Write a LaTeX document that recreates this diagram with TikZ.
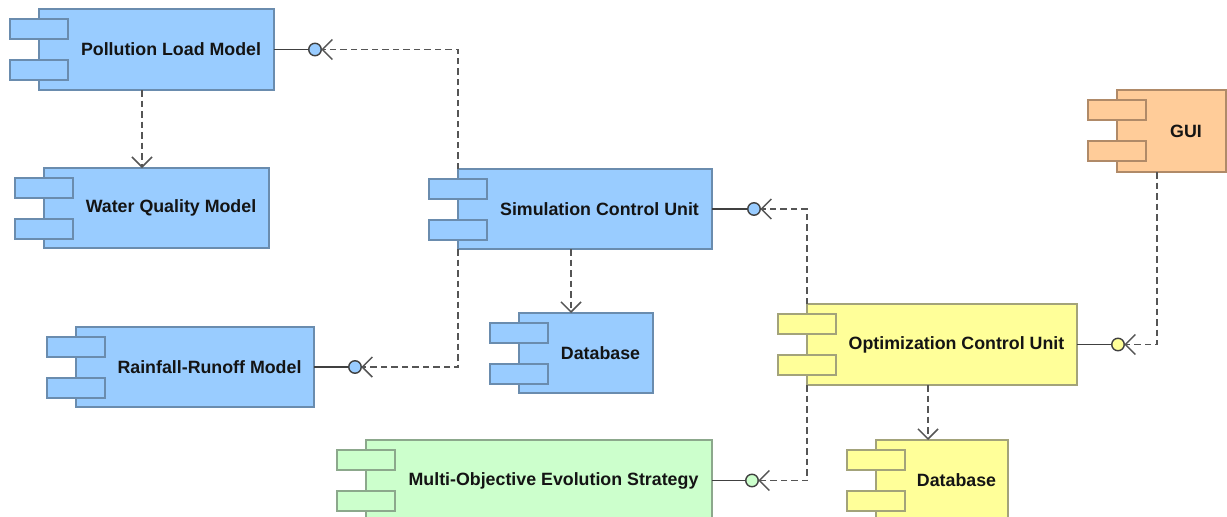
\documentclass[tikz,border=0pt]{standalone}
\usepackage{fontspec}
\setmainfont{Liberation Sans}
\usetikzlibrary{arrows.meta,calc}
\definecolor{bluefill}{HTML}{99CCFF}
\definecolor{blueline}{HTML}{6A8CAE}
\definecolor{yelfill}{HTML}{FFFF99}
\definecolor{yelline}{HTML}{A3A37A}
\definecolor{grnfill}{HTML}{CCFFCC}
\definecolor{grnline}{HTML}{8CA88C}
\definecolor{orgfill}{HTML}{FFCC99}
\definecolor{orgline}{HTML}{B08A68}
\definecolor{txt}{HTML}{141414}
\definecolor{conn}{HTML}{555555}
\definecolor{balline}{HTML}{404040}
\tikzset{
  compbox/.style={rectangle, inner sep=0pt, outer sep=0pt, line width=1.4pt},
  portbox/.style={rectangle, inner sep=0pt, outer sep=0pt, line width=1.4pt, minimum width=58pt, minimum height=20pt},
  lbl/.style={font=\fontsize{17.8}{20}\selectfont\bfseries, text=txt, inner sep=0pt},
  ball/.style={circle, draw=balline, line width=1.4pt, minimum size=12.5pt, inner sep=0pt, outer sep=0pt},
  solidlink/.style={draw=balline, line width=1.5pt},
  dep/.style={draw=conn, line width=1.5pt, dash pattern=on 6.5pt off 4pt, -{Straight Barb[length=10pt,width=20pt]}},
}
\newcommand\umlcomp[7]{%
  \node[compbox, fill=#2fill, draw=#2line, minimum width={#5-#3}, minimum height={#6-#4}, anchor=north west] (#1) at (#3,#4) {};
  \node[portbox, fill=#2fill, draw=#2line, anchor=north west] (#1-pa) at ({#3-29},{#4+10}) {};
  \node[portbox, fill=#2fill, draw=#2line, anchor=north west] (#1-pb) at ({#3-29},{#4+51}) {};
  \node[lbl] (#1-t) at ({(#3+29+#5)/2},{(#4+#6)/2}) {#7};
}
\begin{document}
\begin{tikzpicture}[x=1pt,y=-1pt]
  \useasboundingbox (0,0) rectangle (1227,517);
  \fill[white] (0,0) rectangle (1227,517);
  \clip (0,0) rectangle (1227,517);
  % components
  \umlcomp{plm}{blue}{39}{9}{274}{90}{Pollution Load Model}
  \umlcomp{wqm}{blue}{44}{168}{269}{248}{Water Quality Model}
  \umlcomp{scu}{blue}{458}{169}{712}{249}{Simulation Control Unit}
  \umlcomp{rrm}{blue}{76}{327}{314}{407}{Rainfall-Runoff Model}
  \umlcomp{sdb}{blue}{519}{313}{653}{393}{Database}
  \umlcomp{ocu}{yel}{807}{304}{1077}{385}{Optimization Control Unit}
  \umlcomp{odb}{yel}{876}{440}{1008}{521}{Database}
  \umlcomp{moes}{grn}{366}{440}{712}{521}{Multi-Objective Evolution Strategy}
  \umlcomp{gui}{org}{1117}{90}{1226}{172}{GUI}
  % provided interfaces (balls)
  \node[ball, fill=bluefill] (plmb) at ($(plm.east)+(41,0)$) {};
  \node[ball, fill=bluefill] (scub) at ($(scu.east)+(42,0)$) {};
  \node[ball, fill=bluefill] (rrmb) at ($(rrm.east)+(41,0)$) {};
  \node[ball, fill=yelfill] (ocub) at ($(ocu.east)+(41,0)$) {};
  \node[ball, fill=grnfill] (moesb) at ($(moes.east)+(40,0)$) {};
  \draw[solidlink] (plm.east) -- (plmb.west);
  \draw[solidlink] (scu.east) -- (scub.west);
  \draw[solidlink] (rrm.east) -- (rrmb.west);
  \draw[solidlink] (ocu.east) -- (ocub.west);
  \draw[solidlink] (moes.east) -- (moesb.west);
  % required interfaces (sockets)
  \draw[dep] (scu.north west) |- (plmb.east);
  \draw[dep] (scu.south west) |- (rrmb.east);
  \draw[dep] (ocu.north west) |- (scub.east);
  \draw[dep] (ocu.south west) |- (moesb.east);
  \coordinate (guid) at ($(gui.south west)+(40,0)$);
  \draw[dep] (guid) |- (ocub.east);
  % dependencies
  \coordinate (plmd) at ($(plm.south west)+(103,0)$);
  \coordinate (scud) at ($(scu.south west)+(113,0)$);
  \coordinate (ocud) at ($(ocu.south west)+(121,0)$);
  \draw[dep] (plmd) -- (plmd |- wqm.north);
  \draw[dep] (scud) -- (scud |- sdb.north);
  \draw[dep] (ocud) -- (ocud |- odb.north);
\end{tikzpicture}
\end{document}
